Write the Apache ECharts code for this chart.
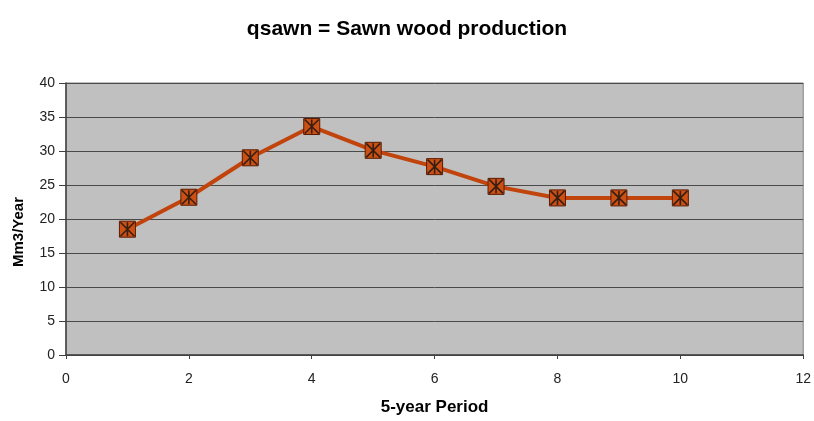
<!DOCTYPE html>
<html>
<head>
<meta charset="utf-8">
<script src="https://cdn.jsdelivr.net/npm/echarts@6/dist/echarts.min.js"></script>
<style>html,body{margin:0;padding:0;background:#fff}#c{width:814px;height:421px}</style>
</head>
<body>
<div id="c"></div>
<script>
const periods = [1, 2, 3, 4, 5, 6, 7, 8, 9, 10];
const qsawn = [18.5, 23.2, 29.0, 33.6, 30.1, 27.7, 24.8, 23.1, 23.1, 23.1];
const titleText = 'qsawn = Sawn wood production';
const xName = '5-year Period';
const yName = 'Mm3/Year';

const pts = periods.map((p, i) => [p, qsawn[i]]);
const chart = echarts.init(document.getElementById('c'), null, {renderer: 'canvas'});
const FONT = 'Liberation Sans, Arial, sans-serif';
chart.setOption({
  backgroundColor: '#ffffff',
  animation: false,
  title: {
    text: titleText, left: 'center', top: 14,
    textStyle: {fontFamily: FONT, fontWeight: 'bold', fontSize: 21, color: '#000'}
  },
  grid: {left: 66, right: 9, top: 83, bottom: 64, show: true, backgroundColor: '#c0c0c0', borderColor: '#808080', borderWidth: 1},
  xAxis: {
    type: 'value', min: 0, max: 12, interval: 2,
    name: xName, nameLocation: 'middle', nameGap: 44,
    nameTextStyle: {fontFamily: FONT, fontWeight: 'bold', fontSize: 17, color: '#000'},
    axisLine: {lineStyle: {color: '#404040', width: 1.5}},
    axisTick: {show: true, inside: false, length: 4, lineStyle: {color: '#404040'}},
    axisLabel: {fontFamily: FONT, fontSize: 14, color: '#222', margin: 17},
    splitLine: {show: false}
  },
  yAxis: {
    type: 'value', min: 0, max: 40, interval: 5,
    name: yName, nameLocation: 'middle', nameGap: 40, nameRotate: 90,
    nameTextStyle: {fontFamily: FONT, fontWeight: 'bold', fontSize: 15, color: '#000', padding: [0, 26, 0, 0]},
    axisLine: {show: true, lineStyle: {color: '#404040', width: 1.5}},
    axisTick: {show: true, inside: false, length: 7, lineStyle: {color: '#404040'}},
    axisLabel: {fontFamily: FONT, fontSize: 14, color: '#222', margin: 11},
    splitLine: {show: true, lineStyle: {color: '#4a4a4a', width: 1}}
  },
  series: [
    {
      type: 'line', data: pts,
      lineStyle: {color: '#c0440c', width: 4},
      symbol: 'rect', symbolSize: 16,
      itemStyle: {color: '#cc5014', borderColor: '#5a1a00', borderWidth: 1},
      z: 2
    },
    {
      type: 'scatter', data: pts,
      symbol: 'path://M0,0L10,10M10,0L0,10M5,0L5,10',
      symbolSize: 14,
      itemStyle: {color: 'rgba(0,0,0,0)', borderColor: '#111', borderWidth: 1.6},
      z: 3
    }
  ]
});
</script>
</body>
</html>
